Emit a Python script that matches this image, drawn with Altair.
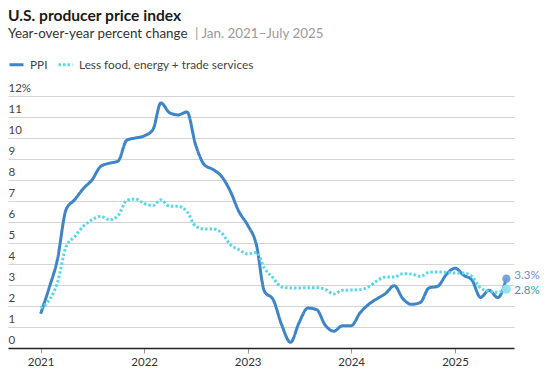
import altair as alt
import pandas as pd

# ---- data ----
months = pd.date_range("2021-01-01", "2025-07-01", freq="MS").strftime("%Y-%m-%d").tolist()

ppi = [1.63, 2.9, 4.2, 6.6, 7.06, 7.6, 8.0, 8.65, 8.8, 8.9,
       9.9, 10.0, 10.1, 10.4, 11.67, 11.2, 11.1, 11.24, 9.7, 8.73,
       8.5, 8.17, 7.46, 6.5, 5.85, 4.9, 2.7, 2.3, 1.1, 0.27,
       1.2, 1.9, 1.83, 1.1, 0.8, 1.06, 1.06, 1.67, 2.06, 2.35,
       2.59, 2.97, 2.35, 2.08, 2.17, 2.86, 2.94, 3.49, 3.8, 3.46,
       3.25, 2.41, 2.75, 2.4, 3.3]

core = [1.9, 2.3, 3.1, 4.84, 5.3, 5.8, 6.1, 6.27, 6.1, 6.3,
        7.03, 7.1, 6.88, 6.78, 7.06, 6.75, 6.75, 6.5, 5.8, 5.67,
        5.67, 5.48, 4.92, 4.68, 4.48, 4.55, 3.8, 3.33, 2.9, 2.86,
        2.86, 2.87, 2.87, 2.8, 2.57, 2.75, 2.76, 2.78, 2.9, 3.2,
        3.38, 3.38, 3.54, 3.52, 3.41, 3.6, 3.62, 3.6, 3.57, 3.57,
        3.41, 2.86, 2.7, 2.65, 2.8]

series_names = ["PPI", "Less food, energy + trade services"]
series_colors = ["#3d85c8", "#5ad8e8"]
year_ticks = [2021, 2022, 2023, 2024, 2025]
y_ticks = list(range(0, 13))

title_text = "U.S. producer price index"
subtitle_main = "Year-over-year percent change"
subtitle_range = "| Jan. 2021\u2013July 2025"

FONT = "Lato"

df = pd.concat([
    pd.DataFrame({"date": months, "value": ppi, "series": series_names[0]}),
    pd.DataFrame({"date": months, "value": core, "series": series_names[1]}),
])

x_enc = alt.X(
    "date:T",
    scale=alt.Scale(type="utc",
                    domain=[alt.DateTime(year=2020, month=9, date=8, utc=True),
                            alt.DateTime(year=2025, month=7, date=28, utc=True)]),
    axis=alt.Axis(
        title=None, format="%Y", grid=False,
        values=[alt.DateTime(year=y, month=1, date=1, utc=True) for y in year_ticks],
        tickCount=20,
        domainColor="#222", domainWidth=1.5,
        tickColor="#999", tickSize=5, tickWidth=1,
        labelFont=FONT, labelFontSize=11.5, labelColor="#333", labelPadding=3,
    ),
)
y_enc = alt.Y(
    "value:Q",
    scale=alt.Scale(domain=[0, 12], nice=False),
    axis=alt.Axis(
        title=None, values=y_ticks, tickCount=30, domain=False, ticks=False,
        gridColor="#d4d4d4", gridWidth=1,
        labelAlign="left", labelBaseline="alphabetic", labelPadding=0,
        labelOffset=-4.5, labelOverlap=False,
        labelFont=FONT, labelFontSize=11.5, labelColor="#444",
        labelExpr="datum.value == 12 ? '12%' : format(datum.value, 'd')",
    ),
)

legend_cfg = dict(
    orient="none", legendX=0, legendY=-40, direction="horizontal",
    title=None, symbolType="stroke", symbolSize=196, symbolStrokeWidth=3,
    labelFont=FONT, labelFontSize=11.8, labelColor="#444", labelLimit=400,
    columnPadding=4, labelOffset=5,
)

lines = alt.Chart(df).mark_line(interpolate="monotone", strokeCap="butt", strokeWidth=3).encode(
    x=x_enc,
    y=y_enc,
    color=alt.Color(
        "series:N",
        scale=alt.Scale(domain=series_names, range=series_colors),
        legend=alt.Legend(**legend_cfg),
    ),
    strokeDash=alt.StrokeDash(
        "series:N",
        scale=alt.Scale(domain=series_names, range=[[1, 0], [2.5, 2]]),
        legend=alt.Legend(**legend_cfg),
    ),
)

last_ppi = pd.DataFrame({"date": [months[-1]], "value": [ppi[-1]], "label": [f"{ppi[-1]:.1f}%"]})
last_core = pd.DataFrame({"date": [months[-1]], "value": [core[-1]], "label": [f"{core[-1]:.1f}%"]})

dot_core = alt.Chart(last_core).mark_circle(size=85, color="#8fe2ee", opacity=0.95).encode(x=x_enc, y=y_enc)
dot_ppi = alt.Chart(last_ppi).mark_circle(size=70, color="#6d9bd6", opacity=0.9).encode(x=x_enc, y=y_enc)
lab_ppi = alt.Chart(last_ppi).mark_text(align="left", dx=8, dy=-3, font=FONT, fontSize=11.5, color="#6a8fcf").encode(
    x=x_enc, y=y_enc, text="label:N")
lab_core = alt.Chart(last_core).mark_text(align="left", dx=8, dy=2, font=FONT, fontSize=11.5, color="#2f9fae").encode(
    x=x_enc, y=y_enc, text="label:N")

def label_text(txt, x, y, size, color, weight="normal"):
    return alt.Chart(pd.DataFrame({"t": [txt]})).mark_text(
        align="left", baseline="alphabetic", font=FONT, fontSize=size, fontWeight=weight, color=color
    ).encode(text="t:N", x=alt.value(x), y=alt.value(y))

t1 = label_text(title_text, 0, -75.5, 15.6, "#1a1a1a", "bold")
t2 = label_text(subtitle_main, 0, -58.5, 13.4, "#333")
t3 = label_text(subtitle_range, 187, -58.5, 13.4, "#9a9a9a")

chart = alt.layer(lines, dot_core, dot_ppi, lab_ppi, lab_core, t1, t2, t3).properties(
    width=506, height=252,
    padding={"left": 0, "top": 88, "right": 28, "bottom": 21},
    autosize=alt.AutoSizeParams(type="none"),
).configure_view(stroke=None)

chart.save("out.html", embed_options={"renderer": "svg", "actions": False})
